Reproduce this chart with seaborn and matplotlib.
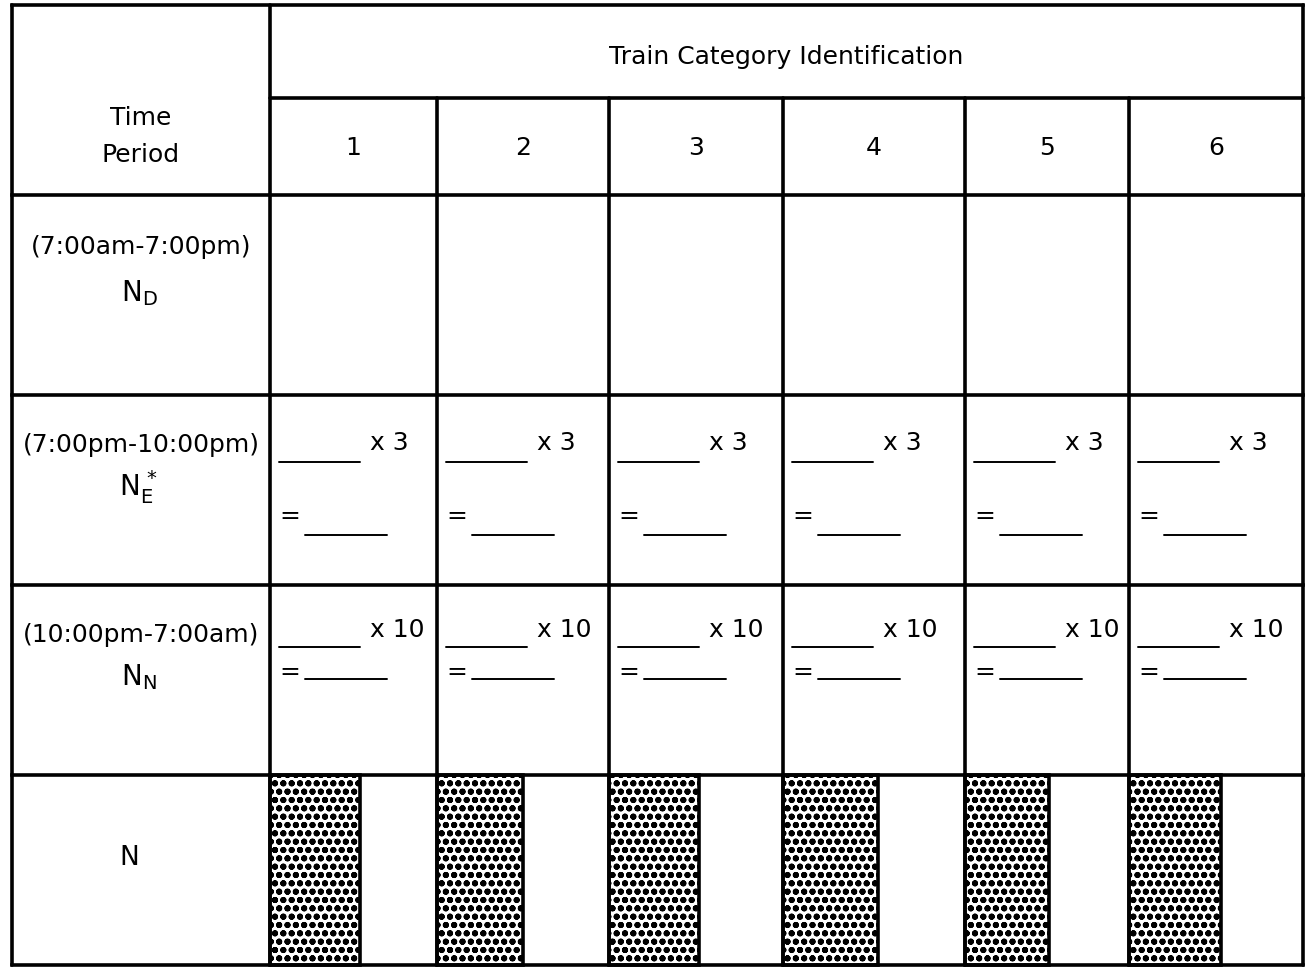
import matplotlib
matplotlib.use("Agg")
import matplotlib.pyplot as plt
import seaborn as sns

sns.set_theme(style="white")
plt.rcParams['font.family'] = ['DejaVu Sans']
plt.rcParams['text.color'] = 'black'
plt.rcParams['hatch.linewidth'] = 2.0

# table content
header = "Train Category Identification"
row_title = ["Time", "Period"]
categories = ["1", "2", "3", "4", "5", "6"]
periods = ["(7:00am-7:00pm)", "(7:00pm-10:00pm)", "(10:00pm-7:00am)"]
symbols = [r"$\mathregular{N_D}$", r"$\mathregular{N_E^{\,*}}$", r"$\mathregular{N_N}$"]
total_symbol = "N"
multipliers = [None, 3, 10]

# layout in pixel units (image is 1307 x 967)
col_edges = [12, 270, 437, 609, 783, 965, 1129, 1303]
row_edges = [5, 195, 395, 585, 775, 965]
header_split = 98
shade_frac = [0.54, 0.50, 0.52, 0.52, 0.51, 0.53]

fig = plt.figure(figsize=(13.07, 9.67), dpi=100)
ax = fig.add_axes([0, 0, 1, 1])
ax.set_xlim(0, 1307)
ax.set_ylim(967, 0)
ax.axis("off")

fs = 18
lw = 2.6

# shaded (halftone) blocks in the N row
lefts = col_edges[1:-1]
widths = [(col_edges[i + 2] - col_edges[i + 1]) * shade_frac[i] for i in range(len(categories))]
ax.bar(lefts, row_edges[5] - row_edges[4], width=widths, bottom=row_edges[4],
       align="edge", facecolor="white", edgecolor="black", hatch="oo", linewidth=lw)

# grid lines
for y in row_edges:
    ax.plot([col_edges[0], col_edges[-1]], [y, y], color="black", lw=lw, solid_capstyle="projecting")
ax.plot([col_edges[1], col_edges[-1]], [header_split, header_split], color="black", lw=lw)
ax.plot([col_edges[0], col_edges[0]], [row_edges[0], row_edges[-1]], color="black", lw=lw)
ax.plot([col_edges[-1], col_edges[-1]], [row_edges[0], row_edges[-1]], color="black", lw=lw)
ax.plot([col_edges[1], col_edges[1]], [row_edges[0], row_edges[-1]], color="black", lw=lw)
for x in col_edges[2:-1]:
    ax.plot([x, x], [header_split, row_edges[-1]], color="black", lw=lw)

# header text
ax.text((col_edges[1] + col_edges[-1]) / 2, 57, header,
        ha="center", va="center", fontsize=fs)
cx = (col_edges[0] + col_edges[1]) / 2
ax.text(cx, 118, row_title[0], ha="center", va="center", fontsize=fs)
ax.text(cx, 155, row_title[1], ha="center", va="center", fontsize=fs)
for i, c in enumerate(categories):
    ax.text((col_edges[i + 1] + col_edges[i + 2]) / 2, 148, c,
            ha="center", va="center", fontsize=fs)

# row labels
label_y = [247, 445, 635]
sym_y = [293, 487, 677]
for p, s, ly, sy in zip(periods, symbols, label_y, sym_y):
    ax.text(cx, ly, p, ha="center", va="center", fontsize=fs)
    ax.text(cx - 2, sy, s, ha="center", va="center", fontsize=fs + 2)
ax.text(cx - 12, 858, total_symbol, ha="center", va="center", fontsize=fs + 1)

# fill-in blanks for evening and night rows
blank_y = {3: (462, 443, 516, 535), 10: (647, 630, 672, 679)}
for m in multipliers:
    if m is None:
        continue
    y1, ty, ey, y2 = blank_y[m]
    for L in col_edges[1:-1]:
        ax.plot([L + 9, L + 90], [y1, y1], color="black", lw=1.4)
        ax.text(L + 100, ty, f"x {m}", ha="left", va="center", fontsize=fs)
        ax.text(L + 9, ey, "=", ha="left", va="center", fontsize=fs)
        ax.plot([L + 35, L + 117], [y2, y2], color="black", lw=1.4)

fig.savefig("out.png", dpi=100, facecolor="white")
